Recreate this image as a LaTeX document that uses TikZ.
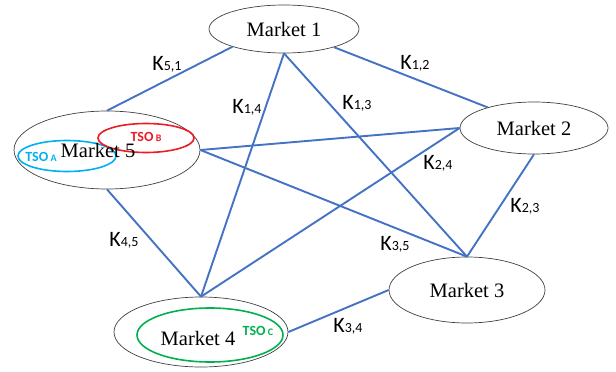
\documentclass[tikz,border=0pt]{standalone}
\usepackage{fontspec}
\setmainfont{Liberation Serif}
\newfontfamily\kfont{Carlito}
\usetikzlibrary{shapes.geometric}
\definecolor{linkblue}{RGB}{68,114,196}
\definecolor{tsoa}{RGB}{0,176,240}
\definecolor{tsob}{RGB}{237,28,36}
\definecolor{tsoc}{RGB}{0,176,80}
\newcommand{\Klab}[1]{{\kfont\fontsize{22}{22}\selectfont K}{\kfont\fontsize{14}{14}\selectfont #1}}
\newcommand{\TSOlab}[1]{{\kfont\bfseries\fontsize{14}{14}\selectfont TSO\,}{\kfont\bfseries\fontsize{10}{10}\selectfont #1}}
\begin{document}
\begin{tikzpicture}[x=1pt,y=-1pt,
  market/.style={ellipse, draw=black!75, line width=0.7pt, inner sep=0pt, font=\fontsize{20.5}{20.5}\selectfont},
  link/.style={draw=linkblue, line width=1.9pt},
  klabel/.style={inner sep=0pt},
  tso/.style={ellipse, line width=1.6pt, inner sep=0pt},
  mtext/.style={inner sep=0pt, font=\fontsize{20.5}{20.5}\selectfont},
  tsotext/.style={inner sep=0pt}]
\useasboundingbox (0,0) rectangle (616,372);

% markets
\node[market, minimum width=150pt, minimum height=48pt] (m1) at (284,29) {Market 1};
\node[market, minimum width=148pt, minimum height=52pt] (m2) at (534,128) {Market 2};
\node[market, minimum width=156pt, minimum height=66pt] (m3) at (467,290) {Market 3};
\node[market, minimum width=174pt, minimum height=70pt] (m4) at (201,332) {};
\node[market, minimum width=186pt, minimum height=78pt] (m5) at (107,150) {};

% links
\draw[link] (m1.199) -- (m5.90);
\draw[link] (m1.340) -- (m2.156);
\draw[link] (m1.270) -- (m4.90);
\draw[link] (m1.270) -- (m3.90);
\draw[link] (m5.0) -- (m2.180);
\draw[link] (m5.0) -- (m3.90);
\draw[link] (m5.270) -- (m4.90);
\draw[link] (m2.180) -- (m4.90);
\draw[link] (m2.270) -- (m3.90);
\draw[link] (m3.180) -- (m4.0);

% TSO ellipses
\node[tso, draw=tsoa, minimum width=98pt, minimum height=31pt] (ta) at (67,156) {};
\node[tso, draw=tsob, minimum width=96pt, minimum height=29pt] (tb) at (146,138) {};
\node[tso, draw=tsoc, minimum width=146pt, minimum height=54pt] (tc) at (210,335) {};

% texts
\node[mtext] (m5t) at (98,150) {Market 5};
\node[mtext] (m4t) at (198,338) {Market 4};
\node[tsotext, text=tsoa] (tat) at (41,157) {\TSOlab{A}};
\node[tsotext, text=tsob] (tbt) at (146,137) {\TSOlab{B}};
\node[tsotext, text=tsoc] (tct) at (258,331) {\TSOlab{C}};

% link labels
\node[klabel] (k51) at (167,64) {\Klab{5,1}};
\node[klabel] (k14) at (247,107) {\Klab{1,4}};
\node[klabel] (k12) at (415,63) {\Klab{1,2}};
\node[klabel] (k13) at (357,103) {\Klab{1,3}};
\node[klabel] (k24) at (438,163) {\Klab{2,4}};
\node[klabel] (k23) at (525,206) {\Klab{2,3}};
\node[klabel] (k45) at (124,240) {\Klab{4,5}};
\node[klabel] (k35) at (395,244) {\Klab{3,5}};
\node[klabel] (k34) at (348,326) {\Klab{3,4}};
\end{tikzpicture}
\end{document}
